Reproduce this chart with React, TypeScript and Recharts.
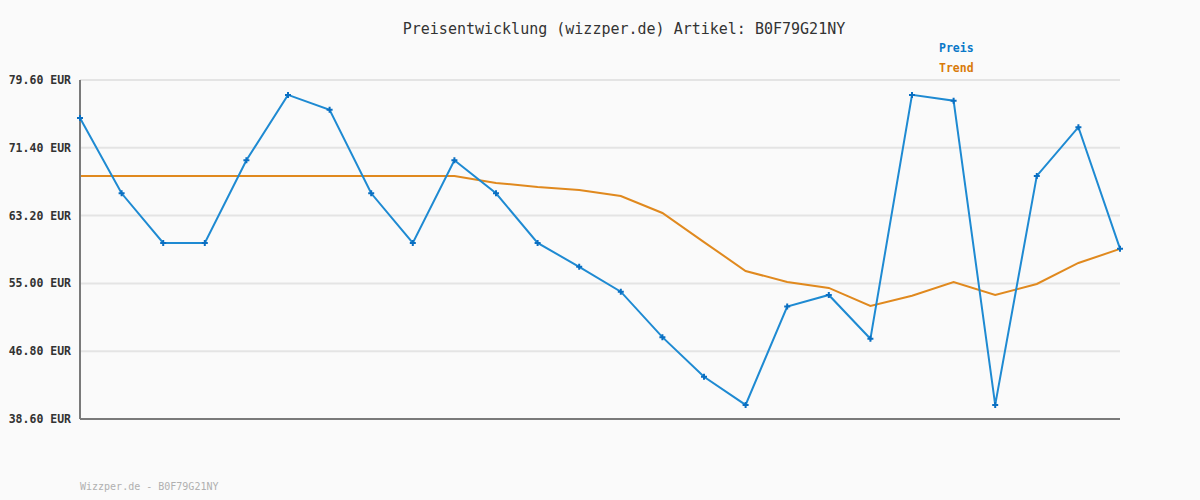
import React from "react";
import { LineChart, Line, XAxis, YAxis, CartesianGrid } from "recharts";

const dates = [
  "d1","d2","d3","d4","d5","d6","d7","d8","d9","d10","d11","d12","d13",
  "d14","d15","d16","d17","d18","d19","d20","d21","d22","d23","d24","d25","d26",
];
const preis = [
  75.0, 65.9, 59.9, 59.9, 69.9, 77.8, 76.0, 65.9, 59.9, 69.9, 65.9, 59.9, 57.0,
  54.0, 48.5, 43.7, 40.3, 52.2, 53.6, 48.3, 77.8, 77.1, 40.3, 68.0, 73.9, 59.2,
];
const trend = [
  68.0, 68.0, 68.0, 68.0, 68.0, 68.0, 68.0, 68.0, 68.0, 68.0, 67.15, 66.66, 66.3,
  65.57, 63.52, 60.0, 56.5, 55.17, 54.45, 52.27, 53.5, 55.17, 53.6, 54.93, 57.47, 59.17,
];
const yTicks = [38.6, 46.8, 55.0, 63.2, 71.4, 79.6];

const title = "Preisentwicklung (wizzper.de) Artikel: B0F79G21NY";
const footer = "Wizzper.de - B0F79G21NY";

const data = dates.map((d, i) => ({ date: d, preis: preis[i], trend: trend[i] }));

const mono = "'DejaVu Sans Mono', monospace";

const PlusDot = (props: any) => {
  const { cx, cy, index } = props;
  if (cx == null || cy == null) return null;
  return (
    <path
      key={`dot-${index}`}
      d={`M${cx - 3},${cy}H${cx + 3}M${cx},${cy - 3}V${cy + 3}`}
      stroke="#0a6fc2"
      strokeWidth={2}
      fill="none"
    />
  );
};

export default function App() {
  return (
    <div style={{ position: "relative", width: 1200, height: 500, background: "#fafafa", fontFamily: mono }}>
      <style>{`body{margin:0;background:#fafafa}`}</style>
      <div
        style={{
          position: "absolute",
          top: 20,
          left: 0,
          width: 1248,
          textAlign: "center",
          fontSize: 15,
          color: "#333",
          whiteSpace: "pre",
        }}
      >
        {title}
      </div>
      <div style={{ position: "absolute", top: 41, left: 939, fontSize: 11.5, fontWeight: "bold", color: "#0a78c8" }}>
        Preis
      </div>
      <div style={{ position: "absolute", top: 61, left: 939, fontSize: 11.5, fontWeight: "bold", color: "#d97a0a" }}>
        Trend
      </div>
      <div style={{ position: "absolute", top: 481, left: 80, fontSize: 10, color: "#b0b0b0", whiteSpace: "pre" }}>
        {footer}
      </div>
      <div style={{ position: "absolute", top: 0, left: 0 }}>
        <LineChart
          width={1200}
          height={500}
          data={data}
          margin={{ top: 80, right: 80, bottom: 80, left: 0 }}
        >
          <CartesianGrid vertical={false} stroke="#e4e4e4" strokeWidth={2} />
          <XAxis
            dataKey="date"
            tick={false}
            tickLine={false}
            height={1}
            axisLine={{ stroke: "#7a7a7a", strokeWidth: 2 }}
          />
          <YAxis
            width={80}
            domain={[38.6, 79.6]}
            ticks={yTicks}
            interval={0}
            tickLine={false}
            tickMargin={3}
            axisLine={{ stroke: "#7a7a7a", strokeWidth: 2 }}
            tickFormatter={(v: number) => `${v.toFixed(2)} EUR`}
            tick={{ fill: "#333", fontSize: 11.5, fontWeight: "bold", fontFamily: mono }}
          />
          <Line
            type="linear"
            dataKey="trend"
            stroke="#e0891e"
            strokeWidth={2}
            dot={false}
            isAnimationActive={false}
          />
          <Line
            type="linear"
            dataKey="preis"
            stroke="#1e8ad2"
            strokeWidth={2}
            dot={<PlusDot />}
            activeDot={false}
            isAnimationActive={false}
          />
        </LineChart>
      </div>
    </div>
  );
}
